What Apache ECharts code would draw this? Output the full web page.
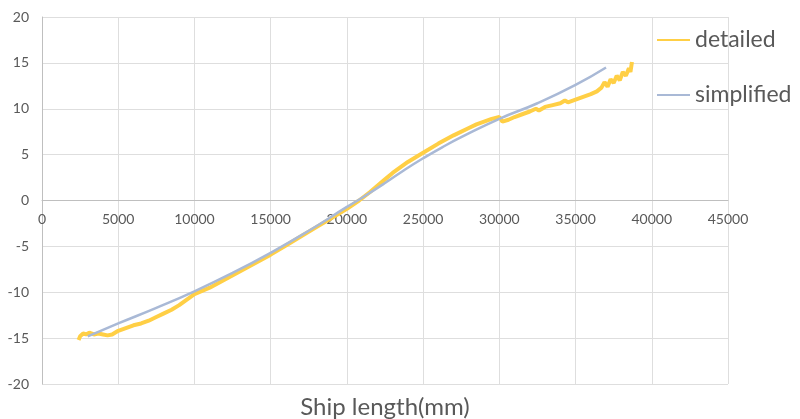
<!DOCTYPE html>
<html>
<head>
<meta charset="utf-8">
<script src="https://cdn.jsdelivr.net/npm/echarts@6/dist/echarts.min.js"></script>
<style>
  html, body { margin: 0; padding: 0; background: #fff; }
  #chart { width: 800px; height: 419px; }
</style>
</head>
<body>
<div id="chart"></div>
<script>
// detailed model (ship length in mm, value)
const detailedX = [2400, 2500, 2700, 2900, 3100, 3400, 3700, 4000, 4300, 4600, 5000, 5500, 6000, 6500, 7000,
  7500, 8000, 8500, 9000, 9500, 10000, 11000, 12000, 13000, 14000, 15000, 16000, 17000, 18000, 19000,
  20000, 20800, 21500, 22000, 22500, 23000, 24000, 25000, 26000, 27000, 28000, 28500, 29000, 29500, 30000,
  30200, 30600, 31000, 31500, 32000, 32400, 32600, 33000, 33500, 34000, 34300, 34500, 35000, 35500, 36000, 36400, 36700,
  36900, 37100, 37300, 37500, 37700, 37900, 38100, 38300, 38500, 38600, 38700];
const detailedY = [-15.2, -14.8, -14.5, -14.6, -14.4, -14.6, -14.5, -14.6, -14.7, -14.6, -14.2, -13.9, -13.6, -13.4, -13.1,
  -12.7, -12.3, -11.9, -11.4, -10.8, -10.2, -9.5, -8.6, -7.7, -6.8, -5.9, -4.9, -3.9, -2.9, -1.9,
  -0.9, 0, 0.9, 1.6, 2.3, 3.0, 4.2, 5.2, 6.2, 7.1, 7.9, 8.3, 8.6, 8.9, 9.1,
  8.6, 8.8, 9.1, 9.4, 9.7, 10.0, 9.8, 10.2, 10.4, 10.6, 10.9, 10.7, 11.0, 11.3, 11.6, 11.9, 12.3,
  12.9, 12.4, 13.2, 12.8, 13.6, 13.1, 14.0, 13.6, 14.4, 14.0, 15.1];

// simplified model
const simplifiedX = [3000, 5000, 7500, 10000, 12500, 15000, 17500, 20000, 21000, 22500, 23750, 25000, 26250, 27500, 30000, 32500, 35000, 37000];
const simplifiedY = [-14.8, -13.4, -11.7, -9.9, -7.9, -5.7, -3.3, -0.7, 0.3, 1.9, 3.3, 4.6, 5.8, 6.9, 8.9, 10.6, 12.6, 14.5];

const seriesNames = ['detailed', 'simplified'];
const xTitle = 'Ship length(mm)';

const pairs = (xs, ys) => xs.map((x, i) => [x, ys[i]]);

const chart = echarts.init(document.getElementById('chart'));
const labelColor = '#595959';
const font = 'Lato, sans-serif';

chart.setOption({
    animation: false,
    textStyle: { fontFamily: font },
    grid: { left: 42, right: 72, top: 17, bottom: 35 },
    legend: {
        orient: 'vertical',
        left: 652,
        top: 22,
        itemGap: 29,
        icon: 'rect',
        itemWidth: 33,
        itemHeight: 2,
        textStyle: { fontFamily: font, fontSize: 23, color: labelColor, lineHeight: 26 },
        data: seriesNames
    },
    xAxis: {
        type: 'value',
        min: 0,
        max: 45000,
        interval: 5000,
        // x axis drawn through y = 0, like the source chart
        offset: -183.5,
        axisLine: { onZero: false, lineStyle: { color: '#bfbfbf', width: 1 } },
        axisTick: { show: false },
        axisLabel: { color: labelColor, fontSize: 14, margin: 12, fontFamily: font, formatter: v => String(v) },
        splitLine: { lineStyle: { color: '#dedede' } }
    },
    yAxis: {
        type: 'value',
        min: -20,
        max: 20,
        interval: 5,
        axisLine: { show: true, lineStyle: { color: '#bfbfbf', width: 1 } },
        axisTick: { show: false },
        axisLabel: { color: labelColor, fontSize: 14, margin: 13, fontFamily: font },
        splitLine: { lineStyle: { color: '#dedede' } }
    },
    graphic: [{
        type: 'text',
        x: 385,
        y: 407,
        style: { text: xTitle, fontSize: 24, fontFamily: font, fill: labelColor, align: 'center', verticalAlign: 'middle' }
    }],
    series: [
        {
            name: seriesNames[0],
            type: 'line',
            symbol: 'none',
            data: pairs(detailedX, detailedY),
            lineStyle: { color: '#ffcf45', width: 4 },
            itemStyle: { color: '#ffcf45' }
        },
        {
            name: seriesNames[1],
            type: 'line',
            symbol: 'none',
            smooth: true,
            data: pairs(simplifiedX, simplifiedY),
            lineStyle: { color: '#a9b9d6', width: 2.5 },
            itemStyle: { color: '#a9b9d6' }
        }
    ]
});
</script>
</body>
</html>
